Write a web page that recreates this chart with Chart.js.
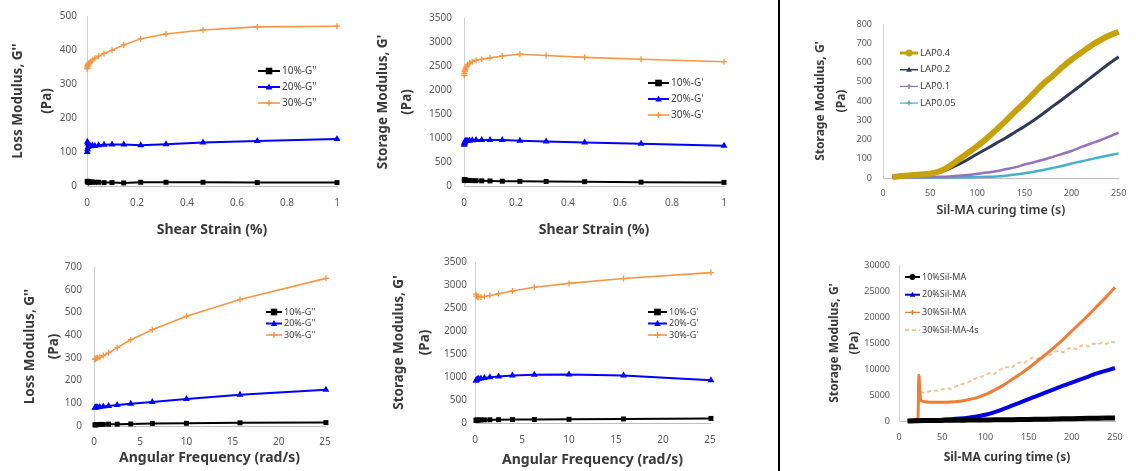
<!DOCTYPE html>
<html><head><meta charset="utf-8">
<script src="https://cdn.jsdelivr.net/npm/chart.js@4.4.1/dist/chart.umd.min.js"></script>
<style>
html,body{margin:0;padding:0;background:#fff;}
body{width:1136px;height:471px;position:relative;overflow:hidden;}
canvas{position:absolute;left:0;top:0;}
#sep{position:absolute;left:778px;top:0;width:2px;height:471px;background:#000;}
</style></head><body>
<div id="sep"></div>
<script>
// ---------- DATA ----------
const strainX = [0.001,0.00147,0.00215,0.00316,0.00464,0.00681,0.01,0.0147,0.0215,0.0316,0.0464,0.0681,0.1,0.147,0.215,0.316,0.464,0.681,1];
const lossStrain10 = [14,13,12,13,12,12,12,11,12,11,11,10,10,9,11,11,11,10,10];
const lossStrain20 = [100,130,108,125,115,120,118,117,119,118,120,121,122,122,120,123,128,132,138];
const lossStrain30 = [345,350,355,352,358,360,362,366,370,376,382,390,399,415,433,447,459,468,470];
const storStrain10 = [130,120,125,118,122,115,120,118,115,112,110,108,105,100,98,95,90,80,75];
const storStrain20 = [860,880,900,920,930,935,940,945,950,955,958,960,960,958,945,925,905,880,840];
const storStrain30 = [2300,2340,2380,2400,2430,2460,2490,2530,2560,2590,2620,2640,2670,2710,2745,2720,2680,2640,2590];

const freqX = [0.1,0.158,0.251,0.398,0.631,1,1.58,2.51,3.98,6.31,10,15.8,25.1];
const lossFreq10 = [5,5,6,6,7,7,8,8,9,11,12,14,15];
const lossFreq20 = [80,81,82,83,84,86,88,92,98,106,119,138,160];
const lossFreq30 = [293,296,298,300,303,310,322,345,380,424,483,557,650];
const storFreq10 = [60,62,63,65,66,68,70,72,74,76,80,88,100];
const storFreq20 = [920,935,950,960,970,980,995,1010,1030,1050,1055,1030,930];
const storFreq30 = [2800,2760,2740,2735,2740,2750,2770,2810,2870,2950,3035,3140,3270];

const lapX = [10,20,30,40,50,60,70,80,90,100,110,120,130,140,150,160,170,180,190,200,210,220,230,240,250];
const lap04 = [5,10,14,18,22,35,60,95,130,165,205,250,295,345,390,440,490,530,575,615,650,685,715,740,760];
const lap02 = [5,10,14,18,20,30,48,70,96,125,152,180,208,238,268,300,335,372,408,445,482,520,558,595,630];
const lap01 = [2,3,3,4,5,6,8,12,16,22,28,35,45,55,70,82,95,110,125,140,160,178,195,215,235];
const lap005 = [1,1,1,2,2,2,3,3,4,5,6,8,12,18,25,32,42,52,62,75,86,97,108,118,128];

const silX = [10,20,30,40,50,60,70,80,90,100,110,120,130,140,150,160,170,180,190,200,210,220,230,240,250];
const sil10 = [0,50,80,100,120,140,150,170,180,200,220,240,260,280,300,330,360,390,420,450,480,510,540,570,600];
const sil20 = [0,50,100,150,250,350,480,650,880,1200,1650,2250,2900,3550,4200,4850,5500,6150,6800,7400,8000,8600,9200,9700,10200];
const sil30X = [10,15,20,22,23,24,25,27,30,40,50,60,70,80,90,100,110,120,130,140,150,160,170,180,190,200,210,220,230,240,250];
const sil30 = [100,200,300,500,8800,6000,4200,3800,3700,3600,3600,3650,3800,4100,4500,5100,5900,6800,7900,9000,10200,11500,12800,14200,15700,17300,18900,20500,22200,23900,25700];
const sil30sX = [25,30,35,40,45,50,55,60,65,70,75,80,85,90,95,100,105,110,115,120,125,130,135,140,145,150,155,160,165,170,175,180,185,190,195,200,205,210,215,220,225,230,235,240,245,250];
const sil30s = [5600,5400,5700,5900,5800,6100,6300,6200,6600,6900,7200,7400,7900,8300,8500,8900,9200,9000,9700,10100,10400,10200,10900,11300,11100,11800,12200,11900,12600,12900,12700,13300,13500,13200,13900,14100,13800,14400,14600,14300,14900,14700,15100,14800,15300,15100];

// ---------- helpers ----------
const FONT = "'Noto Sans', 'Open Sans', sans-serif";
function pts(xs, ys){ return xs.map((x,i)=>({x:x, y:ys[i]})); }

function drawMarker(ctx, style, x, y, r){
  ctx.beginPath();
  if (style === 'rect') { ctx.rect(x-r, y-r, 2*r, 2*r); ctx.fill(); }
  else if (style === 'circle') { ctx.arc(x, y, r, 0, Math.PI*2); ctx.fill(); }
  else if (style === 'triangle') { ctx.moveTo(x, y-r); ctx.lineTo(x+r*0.95, y+r*0.7); ctx.lineTo(x-r*0.95, y+r*0.7); ctx.closePath(); ctx.fill(); }
  else if (style === 'cross') { ctx.moveTo(x-r,y); ctx.lineTo(x+r,y); ctx.moveTo(x,y-r); ctx.lineTo(x,y+r); ctx.stroke(); }
}

const placedLegend = {
  id: 'placedLegend',
  afterDraw(chart, args, o) {
    if (!o || o.x === undefined) return;
    const ctx = chart.ctx;
    ctx.save();
    chart.data.datasets.forEach((ds, i) => {
      const y = o.y + i*o.gap;
      ctx.strokeStyle = ds.borderColor; ctx.fillStyle = ds.borderColor;
      ctx.lineWidth = ds.legendLine || 2;
      ctx.setLineDash(ds.borderDash || []);
      ctx.beginPath(); ctx.moveTo(o.x, y); ctx.lineTo(o.x+o.len, y); ctx.stroke();
      ctx.setLineDash([]);
      if (ds.legendMarker) { ctx.lineWidth = 1.4; drawMarker(ctx, ds.legendMarker, o.x+o.len/2, y, ds.legendR || 3); }
      ctx.fillStyle = '#404040';
      ctx.font = o.size + 'px ' + FONT;
      ctx.textBaseline = 'middle'; ctx.textAlign = 'left';
      ctx.fillText(ds.label, o.x+o.len+2, y);
    });
    ctx.restore();
  }
};

function numLabel(v){ return String(+Number(v).toFixed(3)); }

function makeChart(p){
  const cv = document.createElement('canvas');
  cv.width = 1136; cv.height = 471;
  document.body.appendChild(cv);
  const yGap = p.yT2 - p.yT1;
  const padLeft = p.yT1 - yGap/2;
  const xLH = p.xTitleSize*1.2;
  const xH = p.xTitleY - p.B + xLH/2;
  const tickLH = p.tickSize*1.2;
  new Chart(cv, {
    type: 'line',
    data: { datasets: p.datasets },
    options: {
      responsive: false, animation: false, devicePixelRatio: 1,
      layout: { padding: { left: padLeft, right: 1136 - p.R, top: p.T, bottom: 471 - p.B - xH } },
      plugins: { legend: {display:false}, tooltip: {enabled:false}, placedLegend: p.legend },
      elements: { line: { tension: 0 } },
      scales: {
        x: {
          type: 'linear', min: 0, max: p.xMax,
          ticks: { stepSize: p.xStep, padding: p.xTickY - p.B - tickLH/2, color: '#595959', font: {family: FONT, size: p.tickSize}, callback: numLabel, maxRotation: 0 },
          grid: { display: false, drawTicks: false },
          border: { display: true, color: '#BFBFBF', width: 1 },
          title: { display: true, text: p.xTitle, padding: 0, color: '#3a3a3a', font: {family: FONT, size: p.xTitleSize, weight: p.xTitleWeight || 'bold'} },
          afterFit: s => { s.height = xH; }
        },
        y: {
          type: 'linear', min: 0, max: p.yMax,
          ticks: { stepSize: p.yStep, padding: p.L - p.tickRight, color: '#595959', font: {family: FONT, size: p.tickSize}, callback: numLabel },
          grid: { display: false, drawTicks: false },
          border: { display: true, color: '#D0D0D0', width: 1 },
          title: { display: true, text: p.yTitle, padding: 0, color: '#3a3a3a', font: {family: FONT, size: p.yTitleSize, weight: 'bold', lineHeight: yGap + 'px'} },
          afterFit: s => { s.width = p.L - padLeft; }
        }
      }
    },
    plugins: [placedLegend]
  });
}

const C10 = '#000000', C20 = '#0000FF', C30 = '#F79646';
function triple(xs, a, b, c, names){
  return [
    {label: names[0], data: pts(xs,a), borderColor: C10, backgroundColor: C10, borderWidth: 2, pointStyle: 'rect', pointRadius: 3.5, pointBorderWidth: 0, clip: false, legendMarker: 'rect', legendR: 3.3, legendLine: 2},
    {label: names[1], data: pts(xs,b), borderColor: C20, backgroundColor: C20, borderWidth: 2, pointStyle: 'triangle', pointRadius: 4, pointBorderWidth: 0, clip: false, legendMarker: 'triangle', legendR: 3.5, legendLine: 2},
    {label: names[2], data: pts(xs,c), borderColor: C30, backgroundColor: C30, borderWidth: 1.6, pointStyle: 'cross', pointRadius: 3, pointBorderWidth: 1.3, clip: false, legendMarker: 'cross', legendR: 3, legendLine: 1.6}
  ];
}

// ---------- PANELS ----------
makeChart({L:87, R:337, T:13, B:186, yT1:18, yT2:47, tickRight:77, xTickY:203, xTitleY:230,
  xMax:1, xStep:0.2, yMax:500, yStep:100, tickSize:10, xTitleSize:14, yTitleSize:13.5,
  xTitle:'Shear Strain (%)', yTitle:["Loss Modulus, G''", '(Pa)'],
  legend:{x:258, y:71, gap:16, len:22, size:10},
  datasets: triple(strainX, lossStrain10, lossStrain20, lossStrain30, ["10%-G''","20%-G''","30%-G''"])});

makeChart({L:464, R:724, T:13, B:186, yT1:383, yT2:407, tickRight:452, xTickY:203, xTitleY:230,
  xMax:1, xStep:0.2, yMax:3500, yStep:500, tickSize:10, xTitleSize:14, yTitleSize:13.5,
  xTitle:'Shear Strain (%)', yTitle:["Storage Modulus, G'", '(Pa)'],
  legend:{x:648, y:83, gap:16, len:21, size:10},
  datasets: triple(strainX, storStrain10, storStrain20, storStrain30, ["10%-G'","20%-G'","30%-G'"])});

makeChart({L:94, R:325, T:267, B:426, yT1:30, yT2:54, tickRight:82, xTickY:442, xTitleY:458,
  xMax:25, xStep:5, yMax:700, yStep:100, tickSize:10, xTitleSize:14, yTitleSize:13.5,
  xTitle:'Angular Frequency (rad/s)', yTitle:["Loss Modulus, G''", '(Pa)'],
  legend:{x:266, y:312, gap:11.5, len:16, size:9},
  datasets: triple(freqX, lossFreq10, lossFreq20, lossFreq30, ["10%-G''","20%-G''","30%-G''"])});

makeChart({L:475, R:710, T:262, B:423, yT1:399, yT2:425, tickRight:467, xTickY:440, xTitleY:460,
  xMax:25, xStep:5, yMax:3500, yStep:500, tickSize:10, xTitleSize:14, yTitleSize:13.5,
  xTitle:'Angular Frequency (rad/s)', yTitle:["Storage Modulus, G'", '(Pa)'],
  legend:{x:648, y:312, gap:11.5, len:19, size:9},
  datasets: triple(freqX, storFreq10, storFreq20, storFreq30, ["10%-G'","20%-G'","30%-G'"])});

makeChart({L:883, R:1120, T:24, B:178, yT1:821, yT2:842, tickRight:872, xTickY:193, xTitleY:210,
  xMax:250, xStep:50, yMax:800, yStep:100, tickSize:9, xTitleSize:12.5, xTitleWeight:'600', yTitleSize:12,
  xTitle:'Sil-MA curing time (s)', yTitle:["Storage Modulus, G'", '(Pa)'],
  legend:{x:900, y:53, gap:16.7, len:18, size:9.5},
  datasets: [
    {label:'LAP0.4', data: pts(lapX, lap04), borderColor:'#C5A20C', borderWidth:6, pointRadius:0, clip:false, cubicInterpolationMode:'monotone', legendMarker:'circle', legendR:3.5, legendLine:3},
    {label:'LAP0.2', data: pts(lapX, lap02), borderColor:'#2F3A5A', borderWidth:3, pointRadius:0, clip:false, cubicInterpolationMode:'monotone', legendMarker:'triangle', legendR:3, legendLine:1.5},
    {label:'LAP0.1', data: pts(lapX, lap01), borderColor:'#9473BA', borderWidth:2.5, pointRadius:0, clip:false, cubicInterpolationMode:'monotone', legendMarker:'cross', legendR:2.5, legendLine:1.2},
    {label:'LAP0.05', data: pts(lapX, lap005), borderColor:'#46B1C9', borderWidth:2.5, pointRadius:0, clip:false, cubicInterpolationMode:'monotone', legendMarker:'cross', legendR:2.5, legendLine:1.2}
  ]});

makeChart({L:899, R:1115, T:265, B:421, yT1:835, yT2:855, tickRight:890, xTickY:437, xTitleY:458,
  xMax:250, xStep:50, yMax:30000, yStep:5000, tickSize:9, xTitleSize:12, yTitleSize:12,
  xTitle:'Sil-MA curing time (s)', yTitle:["Storage Modulus, G'", '(Pa)'],
  legend:{x:905, y:277, gap:17.7, len:15, size:9},
  datasets: [
    {label:'10%Sil-MA', data: pts(silX, sil10), borderColor:'#000000', borderWidth:5, pointRadius:0, clip:false, cubicInterpolationMode:'monotone', legendMarker:'circle', legendR:3, legendLine:2},
    {label:'20%Sil-MA', data: pts(silX, sil20), borderColor:'#0000E0', borderWidth:4, pointRadius:0, clip:false, cubicInterpolationMode:'monotone', legendMarker:'triangle', legendR:3, legendLine:2},
    {label:'30%Sil-MA', data: pts(sil30X, sil30), borderColor:'#EE7D35', borderWidth:3, pointRadius:0, clip:false, cubicInterpolationMode:'monotone', legendMarker:'cross', legendR:2.5, legendLine:1.3},
    {label:'30%Sil-MA-4s', data: pts(sil30sX, sil30s), borderColor:'#F7BE93', borderWidth:1.8, borderDash:[4,3], pointRadius:0, clip:false, legendLine:1.6}
  ]});
</script>
</body></html>
